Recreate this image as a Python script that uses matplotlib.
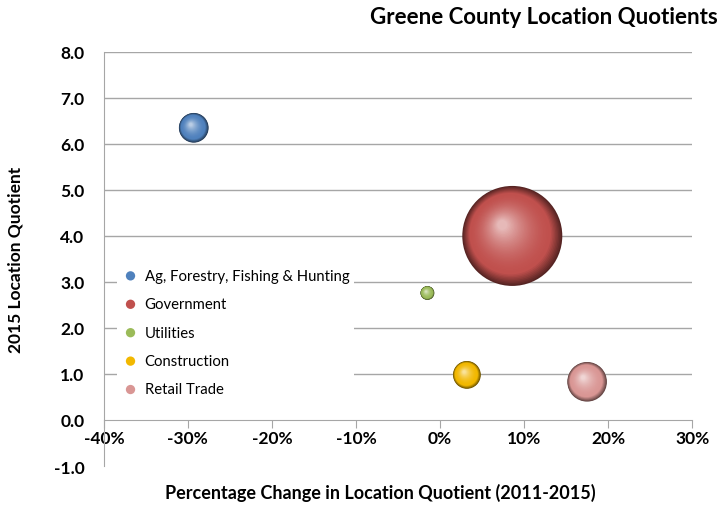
import matplotlib.pyplot as plt
import matplotlib.colors as mcolors
from matplotlib.transforms import offset_copy
import numpy as np

# data
industries = ["Ag, Forestry, Fishing & Hunting", "Government", "Utilities",
              "Construction", "Retail Trade"]
pct_change = [-29.3, 8.6, -1.5, 3.2, 17.5]      # %
lq_2015 = [6.35, 4.0, 2.76, 0.98, 0.83]
bubble_size = [225, 2550, 49, 196, 400]          # relative bubble area
colors = ["#4F81BD", "#C0504D", "#9BBB59", "#F2B800", "#D99694"]

plt.rcParams['font.family'] = ['Lato', 'DejaVu Sans']

fig = plt.figure(figsize=(7.21, 5.10), dpi=100)
ax = fig.add_axes([0.144, 0.0843, 0.816, 0.812])

ax.set_xlim(-40, 30)
ax.set_ylim(-1, 8)

# gridlines
for yv in range(1, 9):
    ax.axhline(yv, color="#A6A6A6", lw=1.0, zorder=0)

# bubble scale: max bubble radius ~50 px -> 36 pt
scale = 36.0 / np.sqrt(max(bubble_size))


def sphere(x, y, size, color, n=40):
    r = np.sqrt(size) * scale   # radius in points
    base = np.array(mcolors.to_rgb(color))
    dark = base * 0.45
    light = base + (1 - base) * 0.6
    for k in range(n):
        t = k / (n - 1)
        rr = r * (1 - 0.9 * t)
        dx = -0.2 * r * t
        dy = 0.22 * r * t
        if t < 0.2:
            c = dark + (base - dark) * (t / 0.2)
        else:
            c = base + (light - base) * ((t - 0.2) / 0.8) ** 1.8
        tr = offset_copy(ax.transData, fig=fig, x=dx, y=dy, units='points')
        ax.scatter([x], [y], s=(2 * rr) ** 2, color=c, edgecolors='none',
                   transform=tr, zorder=3 + k * 0.001)


for i in range(len(industries)):
    sphere(pct_change[i], lq_2015[i], bubble_size[i], colors[i])

# axes styling
for s in ['top', 'right']:
    ax.spines[s].set_visible(False)
ax.spines['bottom'].set_position(('data', 0))
ax.spines['bottom'].set_color("#A6A6A6")
ax.spines['left'].set_color("#A6A6A6")

ax.set_xticks(range(-40, 31, 10))
ax.set_xticklabels([f"{v}%" for v in range(-40, 31, 10)])
ax.set_yticks(range(-1, 9))
ax.set_yticklabels([f"{v:.1f}" for v in range(-1, 9)])
ax.tick_params(axis='x', direction='out', length=6, color="#A6A6A6", pad=1,
               labelsize=12.5)
ax.tick_params(axis='y', length=0, pad=14, labelsize=12.5)
for lab in ax.get_xticklabels() + ax.get_yticklabels():
    lab.set_fontweight('bold')

ax.set_ylabel("2015 Location Quotient", fontsize=12.5, fontweight='bold',
              labelpad=22)
fig.text(0.527, 0.022, "Percentage Change in Location Quotient (2011-2015)",
         ha='center', fontsize=13, fontweight='bold')
fig.text(0.996, 0.952, "Greene County Location Quotients", ha='right',
         fontsize=16, fontweight='bold')

# legend
handles = [ax.scatter([], [], s=45, color=c, edgecolors='none') for c in colors]
leg = ax.legend(handles, industries, loc='upper left',
                bbox_to_anchor=(0.01, 0.505), frameon=True, fontsize=10.7,
                labelspacing=0.97, handletextpad=0.35, borderpad=0.3,
                handlelength=1.2)
leg.get_frame().set_facecolor('white')
leg.get_frame().set_edgecolor('none')
leg.get_frame().set_alpha(1)
leg.set_zorder(5)

fig.savefig("out.png", dpi=100)
